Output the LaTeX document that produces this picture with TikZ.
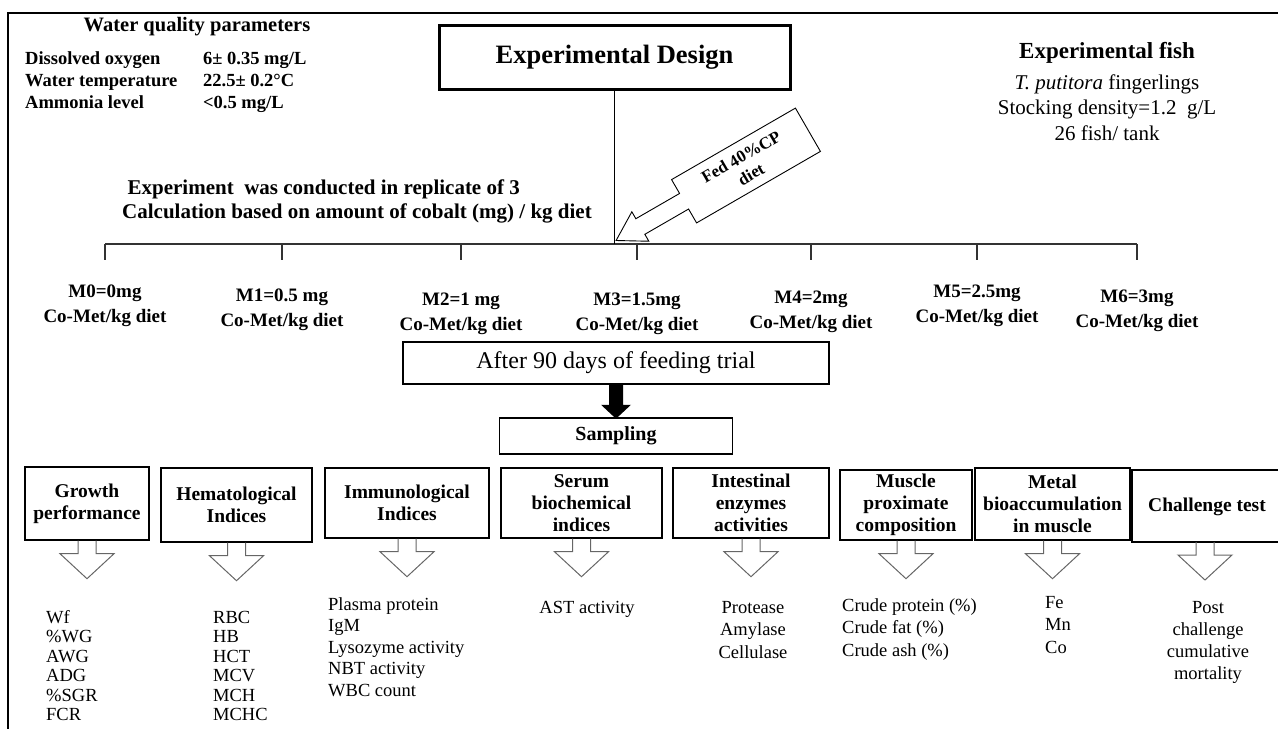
\documentclass[tikz,border=0pt]{standalone}
\usepackage{fontspec}
\setmainfont{Liberation Serif}
\usetikzlibrary{calc}
\begin{document}
\begin{tikzpicture}[x=1pt,y=-1pt,
  frameline/.style={line width=2pt},
  wqtitle/.style={font=\fontsize{20.5}{24}\selectfont\bfseries, inner sep=0},
  wqtxt/.style={font=\fontsize{18.5}{22}\selectfont\bfseries, anchor=base west, inner sep=0},
  edbox/.style={draw, line width=3pt, minimum width=351, minimum height=64, inner sep=0, font=\fontsize{26.5}{30}\selectfont\bfseries},
  fishtitle/.style={font=\fontsize{23}{26}\selectfont\bfseries, inner sep=0},
  fishtxt/.style={font=\fontsize{21}{24}\selectfont, inner sep=0, anchor=base},
  exptxt/.style={font=\fontsize{21}{24}\selectfont\bfseries, anchor=base east, inner sep=0},
  fedline/.style={draw, line width=0.9pt, fill=white},
  fedtxt/.style={font=\fontsize{17}{20}\selectfont\bfseries, align=center, inner sep=0},
  branch/.style={line width=1.2pt, draw=black!80},
  treat/.style={font=\fontsize{19}{25}\selectfont\bfseries, align=center, inner sep=0},
  afterbox/.style={draw, line width=1.5pt, minimum width=426, minimum height=42, inner sep=0, font=\fontsize{24}{28}\selectfont},
  sampbox/.style={draw, line width=1.3pt, minimum width=233, minimum height=36, inner sep=0, font=\fontsize{20}{24}\selectfont\bfseries},
  cattxt/.style={inner sep=0, align=center, font=\fontsize{19.5}{22}\selectfont\bfseries},
  catbox/.style={cattxt, draw, line width=1.4pt},
  callarrow/.style={draw=black!60, line width=1pt, line join=miter},
  listtxt/.style={font=\fontsize{18.5}{21}\selectfont, inner sep=0}
]
\useasboundingbox (0,0) rectangle (1278,729);
% frame
\coordinate (fa) at (8,13);
\coordinate (fb) at (1278,13);
\coordinate (fc) at (8,729);
\draw[frameline] (fb) -- (fa) -- (fc);

% water quality
\node[wqtitle] (wq) at (197,27) {Water quality parameters};
\node[wqtxt] (wq1) at (25,64) {Dissolved oxygen};
\node[wqtxt] (wq2) at (25,86) {Water temperature};
\node[wqtxt] (wq3) at (25,108) {Ammonia level};
\node[wqtxt] (wv1) at (203,64) {6± 0.35 mg/L};
\node[wqtxt] (wv2) at (203,86) {22.5± 0.2°C};
\node[wqtxt] (wv3) at (203,108) {<0.5 mg/L};

% experimental design
\node[edbox] (ed) at (614.5,57) {Experimental Design};

% experimental fish
\node[fishtitle] (fish) at (1107,53) {Experimental fish};
\node[fishtxt] (fish1) at (1107,89) {\textit{T. putitora} fingerlings};
\node[fishtxt] (fish2) at (1107,114) {Stocking density=1.2~ g/L};
\node[fishtxt] (fish3) at (1107,140) {26 fish/ tank};

% experiment lines
\node[exptxt] (exp1) at (520,194) {Experiment~ was conducted in replicate of 3};
\node[exptxt] (exp2) at (592,218) {Calculation based on amount of cobalt (mg) / kg diet};

% branch
\foreach \n/\x in {0/105,1/282,2/461,3/637,4/811,5/977,6/1137}{
  \coordinate (t\n) at (\x,244);
  \coordinate (u\n) at (\x,260);
}
\draw[branch] (t0) -- (t6);
\foreach \n in {0,...,6}{ \draw[branch] (t\n) -- (u\n); }
\draw[line width=1.3pt] (ed.south) -- (ed.south |- t0);

% fed callout
\begin{scope}[shift={(746,165.5)}, rotate=30]
  \draw[fedline] (-71.5,-25) -- (71.5,-25) -- (71.5,25) -- (-71.5,25) -- (-71.5,9)
     -- (-122,9) -- (-122,17) -- (-150,0) -- (-122,-17) -- (-122,-9) -- (-71.5,-9) -- cycle;
  \node[fedtxt, rotate=30] (fed) at (0,0) {Fed 40\%CP\\diet};
\end{scope}

% treatments
\foreach \n/\x/\y/\t in {0/105/305.5/M0=0mg, 1/282/309.5/M1=0.5 mg, 2/461/314/M2=1 mg, 3/637/313.5/M3=1.5mg, 4/811/311.5/M4=2mg, 5/977/306/M5=2.5mg, 6/1137/311/M6=3mg}{
  \node[treat] (m\n) at (\x,\y) {\t\\Co-Met/kg diet};
}

% after / sampling
\node[afterbox] (after) at (616,363) {After 90 days of feeding trial};
\node[sampbox] (samp) at (616,436) {Sampling};
\fill (after.south) ++(-7,0) -- ++(14,0) -- ++(0,20) -- ++(8,0) -- ++(-15,14) -- ++(-15,-14) -- ++(8,0) -- cycle;

% category boxes
\node[catbox, minimum width=124, minimum height=73] (c1) at (87,503.5) {Growth\\performance};
\node[catbox, minimum width=151, minimum height=74] (c2) at (236.5,505) {Hematological\\Indices};
\node[catbox, minimum width=164, minimum height=70] (c3) at (407,503) {Immunological\\Indices};
\node[catbox, minimum width=161, minimum height=70] (c4) at (581.5,503) {Serum\\biochemical\\indices};
\node[catbox, minimum width=156, minimum height=70] (c5) at (751,503) {Intestinal\\enzymes\\activities};
\node[catbox, minimum width=132, minimum height=70] (c6) at (906,505) {Muscle\\proximate\\composition};
\node[catbox, minimum width=155, minimum height=72] (c7) at (1052.5,504) {Metal\\bioaccumulation\\in muscle};
\coordinate (c8a) at (1278,470);
\coordinate (c8b) at (1132,470);
\coordinate (c8c) at (1132,542);
\coordinate (c8d) at (1278,542);
\draw[line width=1.4pt] (c8a) -- (c8b) -- (c8c) -- (c8d);
\node[cattxt] (c8) at (1207,507) {Challenge test};
\coordinate (c8s) at (1205,542);

% down arrow callouts
\foreach \b in {c1.south,c2.south,c3.south,c4.south,c5.south,c6.south,c7.south,c8s}{
  \draw[callarrow] (\b) ++(-9,0) -- ++(0,13) -- ++(-18,0) -- ++(27,25) -- ++(27,-25) -- ++(-18,0) -- ++(0,-13);
}

% lists (positions are baselines)
\foreach \i/\t in {0/Wf,1/\%WG,2/AWG,3/ADG,4/\%SGR,5/FCR}{
  \node[listtxt, anchor=base west] (g\i) at (46,623+19.5*\i) {\t};
}
\foreach \i/\t in {0/RBC,1/HB,2/HCT,3/MCV,4/MCH,5/MCHC}{
  \node[listtxt, anchor=base west] (h\i) at (213,623+19.5*\i) {\t};
}
\foreach \i/\t in {0/Plasma protein,1/IgM,2/Lysozyme activity,3/NBT activity,4/WBC count}{
  \node[listtxt, anchor=base west] (i\i) at (328,610+21.5*\i) {\t};
}
\node[listtxt, anchor=base] (s0) at (587,613) {AST activity};
\foreach \i/\t in {0/Protease,1/Amylase,2/Cellulase}{
  \node[listtxt, anchor=base] (e\i) at (753,613+22.5*\i) {\t};
}
\foreach \i/\t in {0/Crude protein (\%),1/Crude fat (\%),2/Crude ash (\%)}{
  \node[listtxt, anchor=base west] (p\i) at (842,611+22.5*\i) {\t};
}
\foreach \i/\t in {0/Fe,1/Mn,2/Co}{
  \node[listtxt, anchor=base west] (x\i) at (1045,608+22.5*\i) {\t};
}
\foreach \i/\t in {0/Post,1/challenge,2/cumulative,3/mortality}{
  \node[listtxt, anchor=base] (q\i) at (1208,613+22*\i) {\t};
}
\end{tikzpicture}
\end{document}
